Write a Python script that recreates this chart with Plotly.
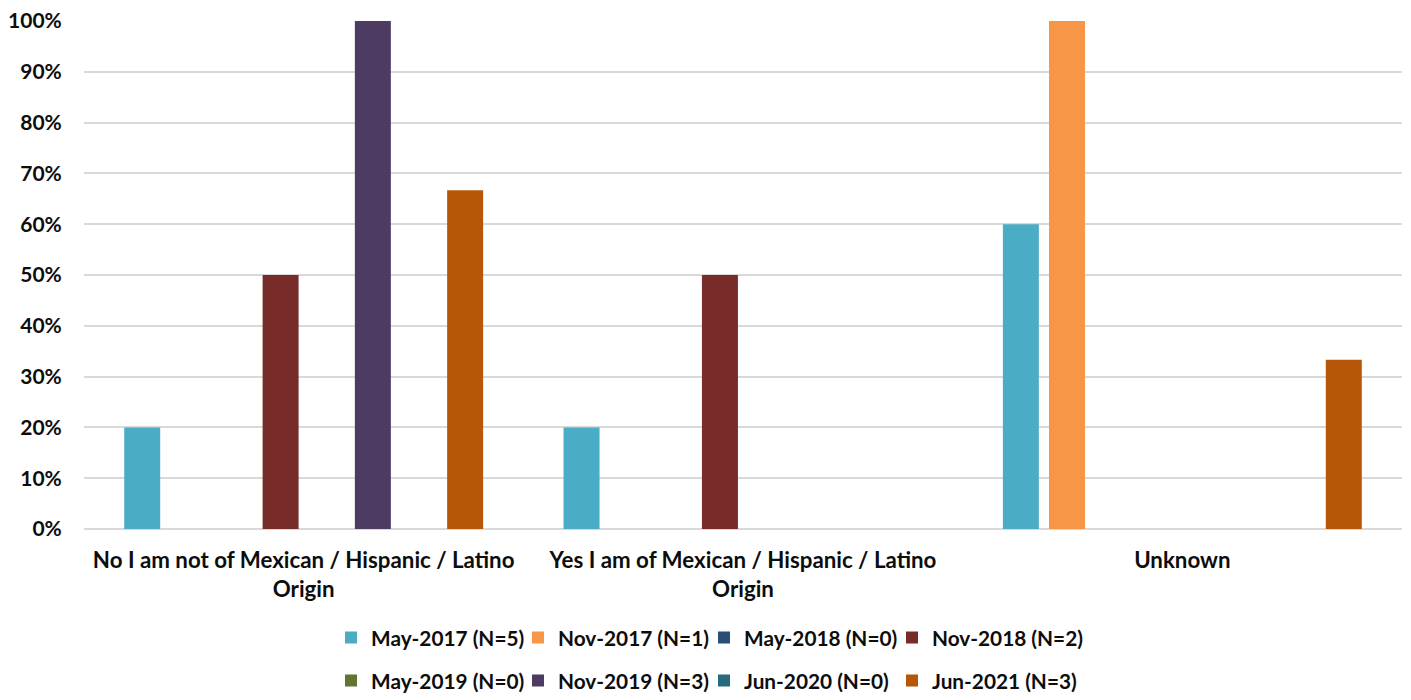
import plotly.graph_objects as go

categories = ["No I am not of Mexican / Hispanic / Latino<br>Origin",
              "Yes I am of Mexican / Hispanic / Latino<br>Origin",
              "Unknown"]
series_names = ["May-2017 (N=5)", "Nov-2017 (N=1)", "May-2018 (N=0)", "Nov-2018 (N=2)",
                "May-2019 (N=0)", "Nov-2019 (N=3)", "Jun-2020 (N=0)", "Jun-2021 (N=3)"]
may2017 = [0.20, 0.20, 0.60]
nov2017 = [0.0, 0.0, 1.0]
may2018 = [0.0, 0.0, 0.0]
nov2018 = [0.50, 0.50, 0.0]
may2019 = [0.0, 0.0, 0.0]
nov2019 = [1.0, 0.0, 0.0]
jun2020 = [0.0, 0.0, 0.0]
jun2021 = [0.6667, 0.0, 0.3333]
values = [may2017, nov2017, may2018, nov2018, may2019, nov2019, jun2020, jun2021]
colors = ["#4BACC6", "#F79646", "#2C4D75", "#772C2A", "#5F7530", "#4D3B62", "#276A7C", "#B65708"]

FONT = "Lato"
TXT = "#0D0D0D"
OFF = 8  # page body margin
W, H = 1411, 700

# legend slot positions (page pixels): 4 columns x 2 rows
legend_cols = [331, 518, 704, 892]
legend_rows = [638, 681]

fig = go.Figure()
legends = {}
for i, (name, vals, col) in enumerate(zip(series_names, values, colors)):
    key = "legend" if i == 0 else f"legend{i + 1}"
    fig.add_trace(go.Bar(
        x=categories, y=vals, name=name, marker=dict(color=col, line=dict(width=0)),
        legend=key, showlegend=True,
    ))
    cx = legend_cols[i % 4]
    cy = legend_rows[i // 4]
    legends[key] = dict(orientation="h", xanchor="left", yanchor="middle",
                        x=(cx - OFF) / W, y=1 - (cy - OFF) / H,
                        xref="container", yref="container", visible=True,
                        font=dict(family=FONT, size=20.8, color=TXT, weight="bold"),
                        bgcolor="rgba(0,0,0,0)", itemwidth=30)

fig.update_layout(
    width=W, height=H, showlegend=True,
    margin=dict(l=84 - OFF, r=W - (1402 - OFF), t=21 - OFF, b=H - (529 - OFF), autoexpand=False),
    paper_bgcolor="white", plot_bgcolor="white",
    barmode="group", bargap=0.16, bargroupgap=0.22,
    font=dict(family=FONT, size=21, color=TXT, weight="bold"),
    xaxis=dict(showgrid=False, showline=False, ticks="outside", ticklen=11,
               tickcolor="rgba(0,0,0,0)", automargin=False,
               tickfont=dict(family=FONT, size=22.3, color=TXT, weight="bold")),
    yaxis=dict(range=[0, 1], tickformat=".0%", dtick=0.1, showgrid=True,
               gridcolor="#D9D9D9", gridwidth=2, zeroline=True, zerolinecolor="#D9D9D9",
               zerolinewidth=2, ticks="outside", ticklen=17, tickcolor="rgba(0,0,0,0)",
               automargin=False, ticklabeloverflow="allow",
               tickfont=dict(family=FONT, size=21, color=TXT, weight="bold")),
    **legends,
)
fig.write_html("out.html")
